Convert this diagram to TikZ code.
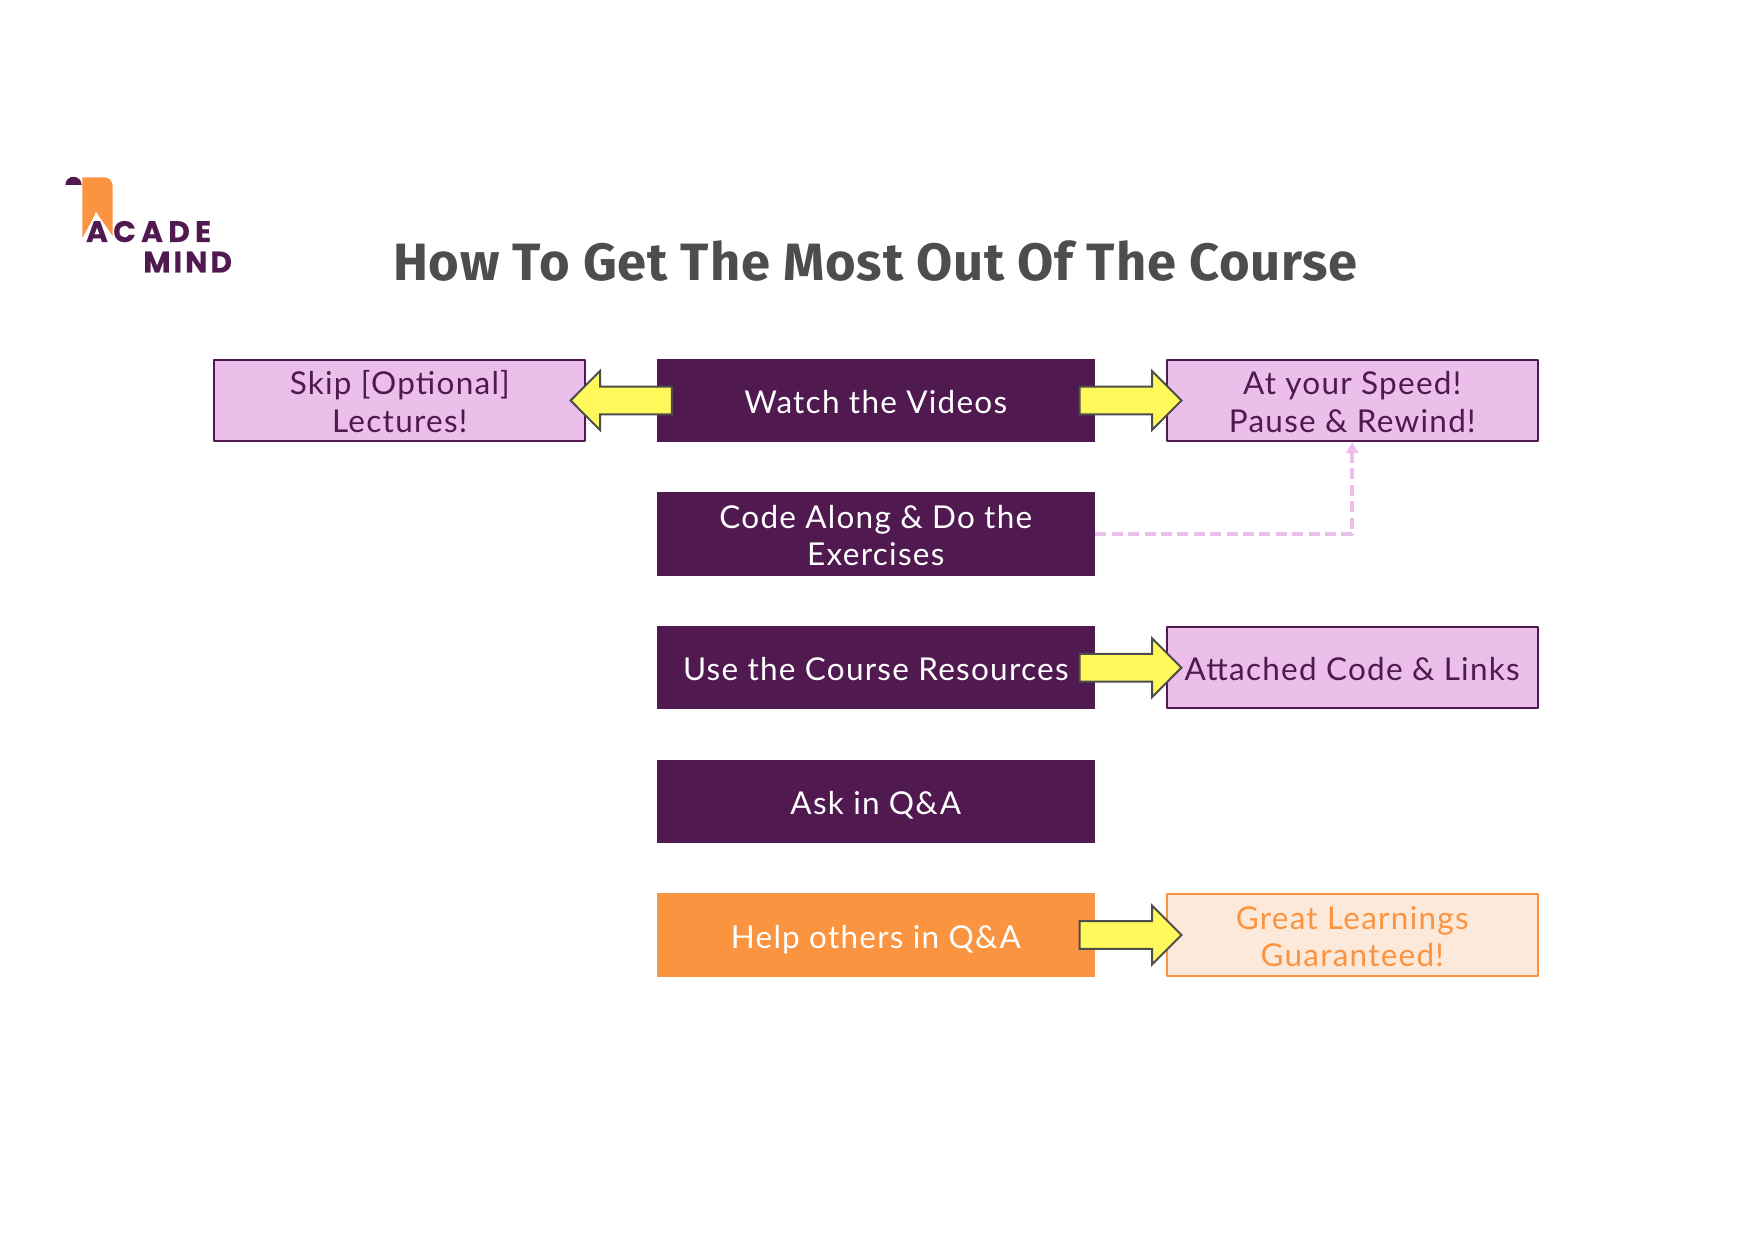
\documentclass[tikz,border=0pt]{standalone}
\usepackage{fontspec}
\setmainfont{Lato}[LetterSpace=4]
\newfontfamily\titlefont{Fira Sans}[BoldFont={Fira Sans Bold},LetterSpace=1.5]
\newfontfamily\logofont{Poppins}[BoldFont={Poppins Bold},BoldFeatures={FakeBold=0.5},LetterSpace=10]
\usetikzlibrary{arrows.meta,calc}
\definecolor{acadedark}{HTML}{501950}
\definecolor{acadelight}{HTML}{ECBFEA}
\definecolor{acadeorange}{HTML}{FB9440}
\definecolor{acadepeach}{HTML}{FDE9DA}
\definecolor{acadeyellow}{HTML}{FFF95B}
\definecolor{acadegray}{HTML}{4D4D4D}
\newcommand{\boxstrut}{\rule[-3.5pt]{0pt}{20pt}}
\newcommand{\firstline}{\rule{0pt}{16.5pt}}
\tikzset{
  mainbox/.style={fill=acadedark,text=white,minimum width=219.2pt,minimum height=41.7pt,inner sep=0pt,align=center,font=\fontsize{15.75}{18.6}\selectfont,execute at begin node=\boxstrut,execute at end node=\boxstrut},
  sidebox/.style={draw=acadedark,fill=acadelight,text=acadedark,line width=1pt,minimum width=185.5pt,minimum height=40.7pt,inner sep=0pt,align=center,font=\fontsize{15.75}{18.6}\selectfont,execute at begin node=\boxstrut,execute at end node=\boxstrut},
  blockarrow/.style={draw=acadegray,fill=acadeyellow,line width=1pt,line cap=butt,line join=miter}
}
\newcommand{\yellowarrow}[3]{\draw[blockarrow] ($(#1)+(-15.7*#3,-13.8)$) -- ($(#2)+(-13.7*#3,-13.8)$) -- ($(#2)+(-13.7*#3,-29.5)$) -- ($(#2)+(15.7*#3,0)$) -- ($(#2)+(-13.7*#3,29.5)$) -- ($(#2)+(-13.7*#3,13.8)$) -- ($(#1)+(-15.7*#3,13.8)$) -- cycle;}
\begin{document}
\begin{tikzpicture}[line cap=round,line join=round,x=0.5pt,y=-0.5pt]
                \useasboundingbox (0,0) rectangle (1754,1240);
                \fill [acadeorange] (82.3,177.3) -- (104,177.3) arc (270:360:8.7) -- (112.7,240) -- (96,213) -- (82.3,238) -- cycle;
                \fill [acadedark] (65.3,185) arc (180:360:8.2) -- cycle;
                \fill [white] (96,212) -- (118,244) -- (82,244) -- cycle;
                \node [anchor=base west,inner sep=0pt,text=acadedark] (logoacade) at (85.7,242) {\logofont\addfontfeature{LetterSpace=18}\bfseries\fontsize{14.8}{14}\selectfont ACADE};
                \node [anchor=base west,inner sep=0pt,text=acadedark] (logomind) at (143,272.5) {\logofont\bfseries\fontsize{14.8}{14}\selectfont MIND};
                \node [text=acadegray] (title) at (875.5,261) {\titlefont\bfseries\fontsize{26.25}{30}\selectfont How To Get The Most Out Of The Course};
                \node [mainbox] (watch) at (875.8,400.5) {Watch the Videos};
                \node [mainbox] (code) at (875.8,534.1) {\firstline Code Along \& Do the\\Exercises};
                \node [mainbox] (resources) at (875.8,667.7) {Use the Course Resources};
                \node [mainbox] (ask) at (875.8,801.3) {Ask in Q\&A};
                \node [mainbox,fill=acadeorange] (help) at (875.8,935) {Help others in Q\&A};
                \node [sidebox] (skip) at (399.8,400.5) {\firstline Skip [Optional]\\Lectures!};
                \node [sidebox] (speed) at (1352.2,400.5) {\firstline At your Speed!\\Pause \& Rewind!};
                \node [sidebox] (attached) at (1352.2,667.7) {Attached Code \& Links};
                \node [sidebox,draw=acadeorange,fill=acadepeach,text=acadeorange] (great) at (1352.2,935) {\firstline Great Learnings\\Guaranteed!};
                \draw [acadelight,line width=2pt,line cap=butt,dash pattern=on 5.5pt off 2.7pt,-{Triangle[length=5.5pt,width=6pt]}] (code.east) -| (speed.south);
                \yellowarrow{watch.west}{skip.east}{-1}
                \yellowarrow{watch.east}{speed.west}{1}
                \yellowarrow{resources.east}{attached.west}{1}
                \yellowarrow{help.east}{great.west}{1}
            \end{tikzpicture}
\end{document}
